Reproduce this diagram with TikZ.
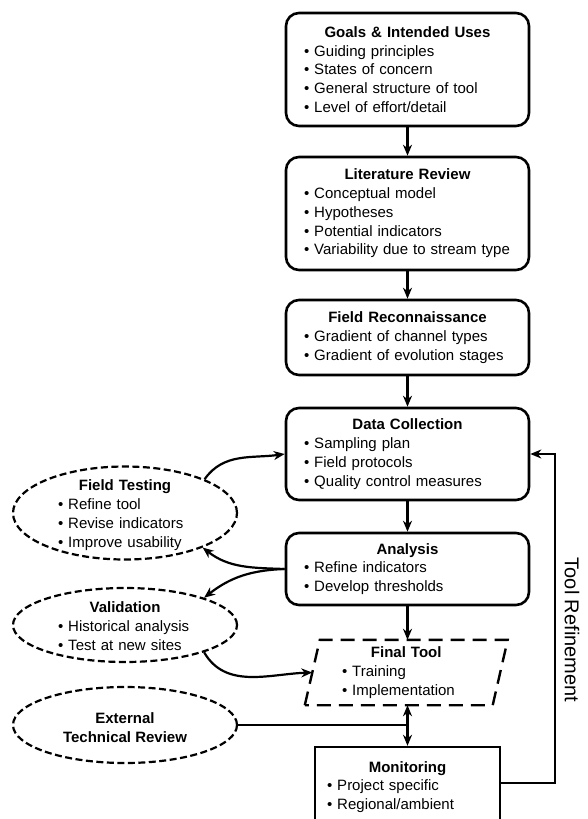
\documentclass[tikz,border=0pt]{standalone}
\usepackage{fontspec}
\setmainfont{Liberation Sans}
\usetikzlibrary{shapes.geometric,arrows.meta}

% centred bold heading inside a left-aligned node
\newcommand{\boxhead}[1]{\makebox[\linewidth][c]{\bfseries #1}}

\tikzset{
  stagebox/.style={draw, line width=2.6pt, rounded corners=13pt,
    minimum width=243pt, text width=207pt, inner xsep=18pt, align=left},
  monbox/.style={draw, line width=2.4pt, text width=161pt, inner xsep=12pt,
    align=left},
  toolbox/.style={draw=none, minimum width=187.5pt, minimum height=65pt,
    text width=128.5pt, inner xsep=29.5pt, align=left},
  sideell/.style={draw, ellipse, line width=2.2pt,
    dash pattern=on 7pt off 3.5pt, inner sep=0pt, minimum width=224pt},
  elltext/.style={text width=134pt, align=left, inner sep=0pt},
  flow/.style={line width=2.2pt, -{Stealth[length=11pt,width=9pt,inset=3.5pt]}},
  link/.style={line width=2.2pt}
}

\begin{document}
\begin{tikzpicture}[x=1pt, y=-1pt, font=\fontsize{15}{18.8}\selectfont]
\clip (0,0) rectangle (588,819);
\fill[white] (0,0) rectangle (588,819);

% main sequence of stages
\node[stagebox, minimum height=113pt] (goals) at (407.5,69.5)
  {\boxhead{Goals \& Intended Uses}\\ • Guiding principles\\ • States of concern\\
   • General structure of tool\\ • Level of effort/detail};
\node[stagebox, minimum height=113pt] (lit) at (407.5,213.5)
  {\boxhead{Literature Review}\\ • Conceptual model\\ • Hypotheses\\
   • Potential indicators\\ • Variability due to stream type};
\node[stagebox, minimum height=75pt] (recon) at (407.5,337.5)
  {\boxhead{Field Reconnaissance}\\ • Gradient of channel types\\
   • Gradient of evolution stages};
\node[stagebox, minimum height=92pt] (data) at (407.5,454)
  {\boxhead{Data Collection}\\ • Sampling plan\\ • Field protocols\\
   • Quality control measures};
\node[stagebox, minimum height=72pt] (anal) at (407.5,569)
  {\boxhead{Analysis}\\ • Refine indicators\\ • Develop thresholds};

% final tool (parallelogram outline drawn around the node)
\node[toolbox] (ftool) at (406.25,672.5)
  {\boxhead{Final Tool}\\ • Training\\ • Implementation};
\draw[line width=2.4pt, dash pattern=on 14pt off 8pt]
  ([xshift=-7.5pt]ftool.south west) -- ([xshift=7.5pt]ftool.north west)
  -- ([xshift=7.5pt]ftool.north east) -- ([xshift=-7.5pt]ftool.south east) -- cycle;

\node[monbox, minimum width=185pt, minimum height=80pt] (mon) at (407.5,787)
  {\boxhead{Monitoring}\\ • Project specific\\ • Regional/ambient};

% side activities
\node[sideell, minimum height=93pt] (ftell) at (125,513) {};
\node[elltext] (fttext) at (125,515)
  {\boxhead{Field Testing}\\ • Refine tool\\ • Revise indicators\\ • Improve usability};
\node[sideell, minimum height=74pt] (valell) at (125,625) {};
\node[elltext] (valtext) at (125,626)
  {\boxhead{Validation}\\ • Historical analysis\\ • Test at new sites};
\node[sideell, minimum height=76pt] (extell) at (125,725) {};
\node[align=center, inner sep=0pt, font=\fontsize{15}{18.8}\selectfont\bfseries]
  (exttext) at (125,727.5) {External\\Technical Review};

\node[rotate=-90, inner sep=0pt, font=\fontsize{20}{24}\selectfont]
  (refine) at (572,630) {Tool Refinement};

% connectors along the main sequence
\draw[flow] (goals) -- (lit);
\draw[flow] (lit) -- (recon);
\draw[flow] (recon) -- (data);
\draw[flow] (data) -- (anal);
\draw[flow] (anal.south) -- (anal.south |- ftool.north);
\draw[line width=2.2pt, {Stealth[length=11pt,width=9pt,inset=3.5pt]}-{Stealth[length=11pt,width=9pt,inset=3.5pt]}]
  (mon.north |- ftool.south) -- (mon.north);
\draw[link] (extell.east) -- (extell.east -| mon.north);

% refinement loop back to data collection
\coordinate (loop) at (555,454);
\draw[flow] ([yshift=4pt]mon.east) -| (loop) -- (data.east);

% side connectors
\draw[flow] (ftell.23) to[out=55, in=188] (data.west);
\draw[flow] (anal.west) to[out=178, in=-38] (ftell.-24);
\draw[flow] (anal.west) to[out=182, in=38] (valell.19);
\draw[flow] (valell.-19) to[out=-60, in=182] (ftool.west);
\end{tikzpicture}
\end{document}
